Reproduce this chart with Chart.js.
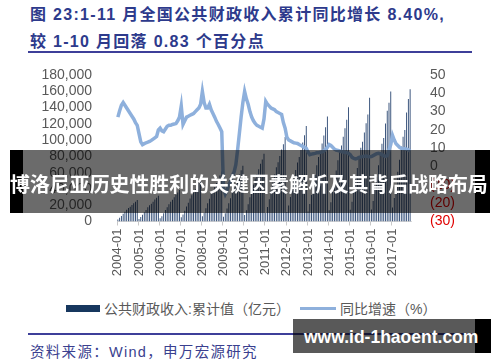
<!doctype html>
<html lang="zh">
<head>
<meta charset="utf-8">
<title>全国公共财政收入累计同比</title>
<script src="https://cdn.jsdelivr.net/npm/chart.js@4.4.0/dist/chart.umd.min.js"></script>
<style>
  body { margin: 0; width: 500px; height: 362px; background: #fff; position: relative; overflow: hidden; }
  .abs { position: absolute; }
  #title { left: 30px; top: 1px; color: #2d3a8c; font: bold 16px/27px "Liberation Sans", "Noto Sans CJK SC", sans-serif; letter-spacing: 1.3px; white-space: nowrap; }
  .rule { left: 28px; width: 444px; height: 2px; background: #3d3f99; }
  #chartBox { left: 0; top: 0; width: 500px; height: 290px; }
  .legTxt { top: 300px; color: #595959; font: 14px/18px "Liberation Sans", "Noto Sans CJK SC", sans-serif; white-space: nowrap; }
  #source { left: 30px; top: 342px; color: #3a3f8f; font: 14.5px/20px "Liberation Sans", "Noto Sans CJK SC", sans-serif; letter-spacing: 1.3px; white-space: nowrap; }
  #banner { left: 10px; top: 150px; width: 480px; height: 63px; background: rgba(0,0,0,0.58); }
  #bannerTxt { left: 10px; top: 169px; color: #fff; font: bold 20.8px/30px "Noto Sans CJK SC", sans-serif; white-space: nowrap; }
  #wm { left: 293px; top: 319px; width: 182px; height: 34px; background: rgba(0,0,0,0.65); }
  #wmTxt { left: 304px; top: 326px; color: #fff; font: bold 17.5px/22px "Liberation Sans", sans-serif; white-space: nowrap; }
</style>
</head>
<body>
<div id="title" class="abs">图 23:1-11 月全国公共财政收入累计同比增长 8.40%,<br>较 1-10 月回落 0.83 个百分点</div>
<div class="abs rule" style="top:51px"></div>

<div id="chartBox" class="abs"><canvas id="myChart" width="500" height="290"></canvas></div>

<div class="abs" style="left:66px;top:305px;width:34px;height:7px;background:#17375e"></div>
<div class="abs legTxt" style="left:104px">公共财政收入:累计值（亿元）</div>
<div class="abs" style="left:300px;top:307px;width:36px;height:3px;background:#8eb0dc"></div>
<div class="abs legTxt" style="left:340px">同比增速（%）</div>

<div class="abs rule" style="top:333px"></div>
<div id="source" class="abs">资料来源：Wind，申万宏源研究</div>

<div id="banner" class="abs"></div>
<div class="abs" style="left:10px;top:150px;width:13px;height:63px;background:#000"></div>
<div class="abs" style="left:475px;top:150px;width:15px;height:63px;background:#000"></div>
<div id="bannerTxt" class="abs">博洛尼亚历史性胜利的关键因素解析及其背后战略布局</div>

<div id="wm" class="abs"></div>
<div class="abs" style="left:475px;top:319px;width:16px;height:34px;background:#000"></div>
<div id="wmTxt" class="abs">www.id-1haoent.com</div>

<script>
const years = [2004, 2005, 2006, 2007, 2008, 2009, 2010, 2011, 2012, 2013, 2014, 2015, 2016, 2017];
const lastMonth2017 = 11;

// 公共财政收入:累计值（亿元），按月
const revenue = [
  2600, 4500, 6900, 9500, 11900, 14500, 16600, 18200, 20300, 22400, 24300, 26400,
  3200, 5400, 8200, 11400, 14200, 17400, 19900, 21800, 24300, 26900, 29100, 31600,
  3900, 6600, 10100, 14000, 17500, 21300, 24400, 26800, 29900, 33000, 35700, 38800,
  5100, 8700, 13300, 18500, 23100, 28200, 32300, 35400, 39500, 43600, 47200, 51300,
  6400, 10800, 16200, 22400, 28000, 34000, 38800, 42400, 47200, 52000, 56400, 61300,
  5700, 10200, 15900, 22500, 28700, 35600, 41500, 46000, 52400, 58500, 63000, 68500,
  7900, 13900, 21200, 29700, 37500, 45400, 52700, 58000, 64200, 70900, 76200, 83100,
  10400, 17800, 27300, 38000, 47900, 57900, 66600, 72800, 80500, 88500, 95000, 103700,
  11700, 19800, 30200, 41800, 52600, 63200, 72600, 79100, 87700, 97100, 105900, 117300,
  12400, 21400, 32600, 45400, 57200, 69000, 79300, 86200, 95900, 105800, 115900, 129100,
  13800, 23500, 36200, 50400, 62800, 75400, 86300, 93400, 104000, 114600, 124900, 140400,
  14400, 24200, 37700, 52300, 65800, 79300, 90600, 97900, 109300, 120600, 131600, 152200,
  14600, 25200, 39000, 54800, 69200, 84300, 95400, 102700, 120500, 136000, 146000, 159600,
  17100, 28900, 44400, 61000, 76000, 92000, 104000, 112500, 134000, 150500, 162500
];

// 同比增速（%），按月
const growth = [
  27, 30.5, 33.5, 35, 33.5, 32, 30.5, 29, 27.5, 26, 24, 22.5,
  18, 13.5, 12, 12.5, 13, 13.3, 13.7, 14.3, 15, 15.7, 16.4, 20,
  21, 19.5, 19, 20.5, 22, 22.5, 22.5, 23, 23.2, 23.5, 25, 27,
  33, 23, 25, 27, 27.5, 28, 28.5, 29, 30, 31, 32, 34,
  41, 35, 32, 32, 34, 31, 29, 27, 24.7, 23, 21, 19,
  -12, -15, -13, -10, -8, -5, -3, 1, 9, 18, 27, 35,
  41, 37, 34, 30, 27, 25, 23.5, 22.5, 22, 21.5, 21, 26,
  35.6, 34, 33, 32, 31.5, 31, 30, 29.5, 29, 28.5, 24, 21,
  16, 14.5, 14, 13.5, 13, 12.8, 12.6, 12, 11.5, 11, 10.5, 10,
  8, 6.5, 6.8, 7, 7.2, 7.5, 7.6, 7.8, 8, 8.5, 9.5, 10.5,
  12, 11.5, 10.5, 9.5, 9, 8.8, 8.5, 8.2, 8, 7.8, 7.6, 7.2,
  6.5, 5, 4.5, 4.2, 4.5, 5, 5.3, 5.5, 5.6, 5.8, 5.5, 5.4,
  5.5, 6, 6.5, 7, 7.2, 7, 6.5, 6, 5.6, 6, 9, 12,
  17, 14.5, 12.5, 11.5, 10.5, 10, 9.8, 9.7, 9.5, 9.2, 8.4
];

const months = [];
years.forEach(y => {
  const n = y === 2017 ? lastMonth2017 : 12;
  for (let m = 1; m <= n; m++) months.push(y + '-' + String(m).padStart(2, '0'));
});

// squeeze the banner line into its 478px box
const bt = document.getElementById('bannerTxt');
const bw = bt.getBoundingClientRect().width;
if (bw > 0) bt.style.fontSize = (20.8 * 478 / bw) + 'px';

const tickFont = { family: 'Liberation Sans', size: 14 };

const config = {
  data: {
    labels: months,
    datasets: [
      {
        type: 'line',
        label: '同比增速（%）',
        data: growth,
        yAxisID: 'y2',
        borderColor: '#8eb0dc',
        borderWidth: 3.5,
        pointRadius: 0,
        tension: 0,
        order: 0
      },
      {
        type: 'bar',
        label: '公共财政收入:累计值（亿元）',
        data: revenue,
        yAxisID: 'y',
        backgroundColor: '#26436f',
        barPercentage: 0.5,
        categoryPercentage: 1,
        order: 1
      }
    ]
  },
  options: {
    responsive: false,
    animation: false,
    layout: { padding: { top: 75, left: 0, right: 0, bottom: 0 } },
    plugins: { legend: { display: false }, tooltip: { enabled: false } },
    scales: {
      x: {
        ticks: {
          autoSkip: false,
          minRotation: 90,
          maxRotation: 90,
          padding: 3,
          color: '#595959',
          font: { family: 'Liberation Sans', size: 13 },
          callback: function (v) {
            const l = this.getLabelForValue(v);
            return l.endsWith('-01') ? l : '';
          }
        },
        grid: {
          drawOnChartArea: false,
          tickLength: 4,
          color: c => (c.tick && c.tick.label) ? '#c8c8c8' : 'rgba(0,0,0,0)'
        },
        border: { color: '#d9d9d9' },
        afterFit: s => { s.height = 68.5; }
      },
      y: {
        position: 'left',
        min: 0,
        max: 180000,
        ticks: {
          autoSkip: false,
          stepSize: 20000,
          padding: 17,
          color: '#595959',
          font: tickFont,
          callback: v => v.toLocaleString('en-US')
        },
        grid: { display: false },
        border: { display: false },
        afterFit: s => { s.width = 117; }
      },
      y2: {
        position: 'right',
        min: -30,
        max: 50,
        ticks: {
          autoSkip: false,
          stepSize: 10,
          padding: 11,
          color: c => c.tick.value < 0 ? '#e00000' : '#595959',
          font: tickFont,
          callback: v => v < 0 ? '(' + (-v) + ')' : v
        },
        grid: { display: false },
        border: { display: false },
        afterFit: s => { s.width = 89; }
      }
    }
  }
};

const myChart = new Chart(document.getElementById('myChart'), config);
</script>
</body>
</html>
